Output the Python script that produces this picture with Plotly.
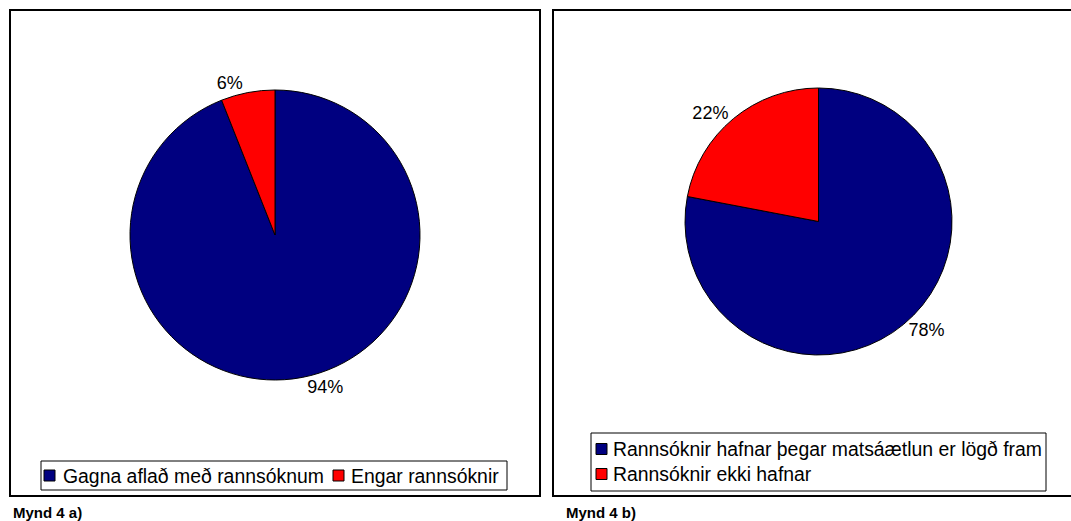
import plotly.graph_objects as go

W, H = 1071, 521

labels_a = ["Gagna aflað með rannsóknum", "Engar rannsóknir"]
values_a = [94, 6]
labels_b = ["Rannsóknir hafnar þegar matsáætlun er lögð fram", "Rannsóknir ekki hafnar"]
values_b = [78, 22]
colors = ["#000080", "#FF0000"]
captions = ["Mynd 4 a)", "Mynd 4 b)"]

FONT = "Arial, Liberation Sans, sans-serif"


def px(x):
    return x / W


def py(y):
    return (H - y) / H


fig = go.Figure()

pie_common = dict(
    sort=False, direction="clockwise", rotation=0,
    marker=dict(colors=colors, line=dict(color="black", width=1)),
    textinfo="percent", textposition="outside",
    textfont=dict(family=FONT, size=18, color="black"),
    hoverinfo="label+percent", showlegend=False,
)

fig.add_trace(go.Pie(labels=labels_a, values=values_a,
                     domain=dict(x=[px(130), px(420)], y=[py(380), py(90)]), **pie_common))
fig.add_trace(go.Pie(labels=labels_b, values=values_b,
                     domain=dict(x=[px(685), px(952)], y=[py(355), py(88)]), **pie_common))

shapes = [
    # panel frames
    dict(type="rect", xref="paper", yref="paper", x0=px(10), x1=px(540), y0=py(496), y1=py(10),
         line=dict(color="black", width=2)),
    dict(type="rect", xref="paper", yref="paper", x0=px(553), x1=px(1080), y0=py(496), y1=py(10),
         line=dict(color="black", width=2)),
    # legend boxes
    dict(type="rect", xref="paper", yref="paper", x0=px(41), x1=px(507), y0=py(490), y1=py(461),
         line=dict(color="black", width=1), fillcolor="white"),
    dict(type="rect", xref="paper", yref="paper", x0=px(591), x1=px(1046), y0=py(491), y1=py(433),
         line=dict(color="black", width=1), fillcolor="white"),
]
annotations = []

# legend a (horizontal): symbol x-left, text x-left, row center y
legend_a_pos = [(44, 61), (333, 349)]
for (sx, tx), lab, col in zip(legend_a_pos, labels_a, colors):
    cy = 475.5
    shapes.append(dict(type="rect", xref="paper", yref="paper", x0=px(sx), x1=px(sx + 11),
                       y0=py(cy + 5.5), y1=py(cy - 5.5), fillcolor=col,
                       line=dict(color="black", width=1)))
    annotations.append(dict(text=lab, x=px(tx), y=py(cy), xref="paper", yref="paper",
                            xanchor="left", yanchor="middle", showarrow=False,
                            font=dict(family=FONT, size=19.4, color="black")))

# legend b (vertical)
legend_b_rows = [449, 474]
for cy, lab, col in zip(legend_b_rows, labels_b, colors):
    shapes.append(dict(type="rect", xref="paper", yref="paper", x0=px(596), x1=px(607),
                       y0=py(cy + 5.5), y1=py(cy - 5.5), fillcolor=col,
                       line=dict(color="black", width=1)))
    annotations.append(dict(text=lab, x=px(611), y=py(cy), xref="paper", yref="paper",
                            xanchor="left", yanchor="middle", showarrow=False,
                            font=dict(family=FONT, size=19.4, color="black")))

# captions
for cx, cap in zip([11, 564], captions):
    annotations.append(dict(text="<b>" + cap + "</b>", x=px(cx), y=py(512), xref="paper", yref="paper",
                            xanchor="left", yanchor="middle", showarrow=False,
                            font=dict(family=FONT, size=15, color="black")))

fig.update_layout(
    width=W, height=H,
    margin=dict(l=0, r=0, t=0, b=0),
    paper_bgcolor="white", plot_bgcolor="white",
    font=dict(family=FONT, size=16, color="black"),
    shapes=shapes,
    annotations=annotations,
    showlegend=False,
)

fig.write_html("out.html", config={"displayModeBar": False},
               post_script="document.body.style.margin='0';document.body.style.overflow='hidden';")
